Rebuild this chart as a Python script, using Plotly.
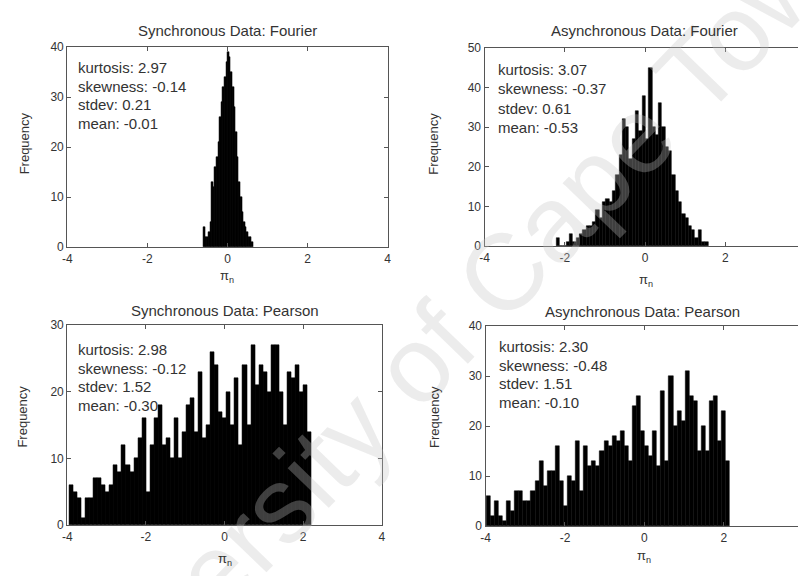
import numpy as np
import plotly.graph_objects as go

# ---------------- data (histogram counts) ----------------
titles = ["Synchronous Data: Fourier", "Asynchronous Data: Fourier",
          "Synchronous Data: Pearson", "Asynchronous Data: Pearson"]

stats = [
    ["kurtosis: 2.97", "skewness: -0.14", "stdev: 0.21", "mean: -0.01"],
    ["kurtosis: 3.07", "skewness: -0.37", "stdev: 0.61", "mean: -0.53"],
    ["kurtosis: 2.98", "skewness: -0.12", "stdev: 1.52", "mean: -0.30"],
    ["kurtosis: 2.30", "skewness: -0.48", "stdev: 1.51", "mean: -0.10"],
]

# Synchronous Fourier
sf_start, sf_width = -0.60, 0.04
sf_counts = [4, 2, 2, 3, 5, 13, 12, 16, 18, 21, 26, 29, 32, 34, 37,
             39, 38, 35, 32, 28, 23, 18, 13, 10, 7, 5, 4, 3, 2, 2, 1]

# Asynchronous Fourier
af_start, af_width = -2.21, 0.0822
af_counts = [2, 0, 0, 1, 3, 1, 2, 3, 4, 5, 5, 6, 9, 7, 11, 12, 11, 14, 18, 23,
             32, 30, 22, 27, 34, 29, 38, 27, 45, 30, 28, 36, 30, 25, 24, 18,
             14, 11, 8, 7, 5, 4, 2, 4, 1, 1]

# Synchronous Pearson
sp_start, sp_width = -3.95, 0.10267
sp_counts = [6, 5, 4, 1, 4, 4, 7, 7, 6, 5, 6, 9, 8, 12, 9, 8, 10, 13, 16, 5,
             12, 16, 18, 12, 13, 10, 16, 10, 14, 18, 19, 14, 23, 13, 15,
             26, 24, 17, 16, 20, 15, 22, 12, 24, 15, 27, 21, 24, 23, 20,
             27, 27, 20, 15, 23, 22, 24, 20, 21, 14]

# Asynchronous Pearson
ap_start, ap_width = -3.98, 0.1022
ap_counts = [6, 2, 5, 2, 1, 5, 3, 7, 7, 5, 5, 7, 9, 13, 8, 11, 11, 16, 9, 4,
             10, 9, 17, 7, 16, 12, 13, 12, 15,
             17, 16, 18, 17, 19, 16, 13, 24, 26, 19, 16, 14, 19, 12, 27, 13,
             30, 20, 23, 21, 31, 26, 25, 15, 20, 15, 25, 26, 17, 23, 13]

x_ticks = [-4, -2, 0, 2, 4]
x_tick_text = ["-4", "-2", "0", "2", "4"]
y_ticks = [[0, 10, 20, 30, 40], [0, 10, 20, 30, 40, 50],
           [0, 10, 20, 30], [0, 10, 20, 30, 40]]

watermark = "University of Cape Town"

# ---------------- layout helpers ----------------
W, H = 802, 576
def fx(px):
    return px / W
def fy(py):
    return 1 - py / H

FONT = "Liberation Sans, Arial, sans-serif"
TXT = "#333333"
AX = "#555555"

panels = [
    dict(start=sf_start, width=sf_width, counts=sf_counts, box=(63, 387, 41, 246), xr=[-4, 4], yr=[0, 40], full=True),
    dict(start=af_start, width=af_width, counts=af_counts, box=(485, 802, 42, 245), xr=[-4, -4 + 317 / 40.6], yr=[0, 50], full=False),
    dict(start=sp_start, width=sp_width, counts=sp_counts, box=(63, 381, 326, 531), xr=[-4, 4], yr=[0, 30], full=True),
    dict(start=ap_start, width=ap_width, counts=ap_counts, box=(486, 802, 327, 532), xr=[-4, -4 + 316 / 40.17], yr=[0, 40], full=False),
]

title_pos = [(225, 24), (647, 24), (222, 311), (645, 312)]
xlabel_pos = [(225, 276), (648, 280), (222, 566), (646, 563)]
ylabel_pos = [(20, 140), (433, 140), (18, 420), (435, 420)]
stat_pos = [(72, [62, 81, 100, 119]), (497, [64, 84, 104, 124]),
            (72, [351, 370, 389, 408]), (498, [348, 367, 386, 405])]

fig = go.Figure()
annotations = []

# watermark (faint, diagonal, running off the page like in the scan)
annotations.append(dict(text=watermark, x=fx(447), y=fy(333), xref="paper", yref="paper",
                        showarrow=False, xanchor="center", yanchor="middle", textangle=-46,
                        font=dict(family=FONT, size=108, color="rgba(195,195,195,0.32)")))

for i, p in enumerate(panels):
    n = len(p["counts"])
    centers = p["start"] + p["width"] * (np.arange(n) + 0.5)
    xa = "x" if i == 0 else f"x{i+1}"
    ya = "y" if i == 0 else f"y{i+1}"
    fig.add_trace(go.Bar(
        x=centers, y=p["counts"], width=p["width"],
        marker=dict(color="black", line=dict(color="black", width=0.5)),
        xaxis=xa, yaxis=ya, showlegend=False, hoverinfo="x+y"))

    x0, x1, y0, y1 = p["box"]
    key = "" if i == 0 else str(i + 1)
    fig.layout["xaxis" + key] = dict(
        domain=[fx(x0), fx(x1)], range=p["xr"], anchor=ya,
        tickvals=x_ticks, ticktext=x_tick_text, ticks="inside", ticklen=4, tickcolor=AX,
        showline=True, linecolor=AX, linewidth=1.3, mirror="ticks",
        showgrid=False, zeroline=False,
        tickfont=dict(family=FONT, size=12, color=TXT))
    fig.layout["yaxis" + key] = dict(
        domain=[fy(y1), fy(y0)], range=p["yr"], anchor=xa,
        tickvals=y_ticks[i], ticks="inside", ticklen=4, tickcolor=AX,
        showline=True, linecolor=AX, linewidth=1.3,
        mirror="ticks" if p["full"] else False,
        showgrid=False, zeroline=False,
        tickfont=dict(family=FONT, size=12, color=TXT))

    tx, ty = title_pos[i]
    annotations.append(dict(text=titles[i], x=fx(tx), y=fy(ty), xref="paper", yref="paper",
                            showarrow=False, xanchor="center", yanchor="middle",
                            font=dict(family=FONT, size=15, color=TXT)))
    lx, ly = xlabel_pos[i]
    annotations.append(dict(text="π<sub>n</sub>", x=fx(lx), y=fy(ly), xref="paper", yref="paper",
                            showarrow=False, xanchor="center", yanchor="middle",
                            font=dict(family=FONT, size=13, color=TXT)))
    vx, vy = ylabel_pos[i]
    annotations.append(dict(text="Frequency", x=fx(vx), y=fy(vy), xref="paper", yref="paper",
                            showarrow=False, xanchor="center", yanchor="middle", textangle=-90,
                            font=dict(family=FONT, size=13, color=TXT)))
    sx, sys = stat_pos[i]
    for line, sy in zip(stats[i], sys):
        annotations.append(dict(text=line, x=fx(sx), y=fy(sy), xref="paper", yref="paper",
                                showarrow=False, xanchor="left", yanchor="middle",
                                font=dict(family=FONT, size=15, color=TXT)))

fig.update_layout(
    width=W, height=H, margin=dict(l=0, r=0, t=0, b=0),
    paper_bgcolor="white", plot_bgcolor="white",
    annotations=annotations, bargap=0,
)

fig.write_html("out.html")
